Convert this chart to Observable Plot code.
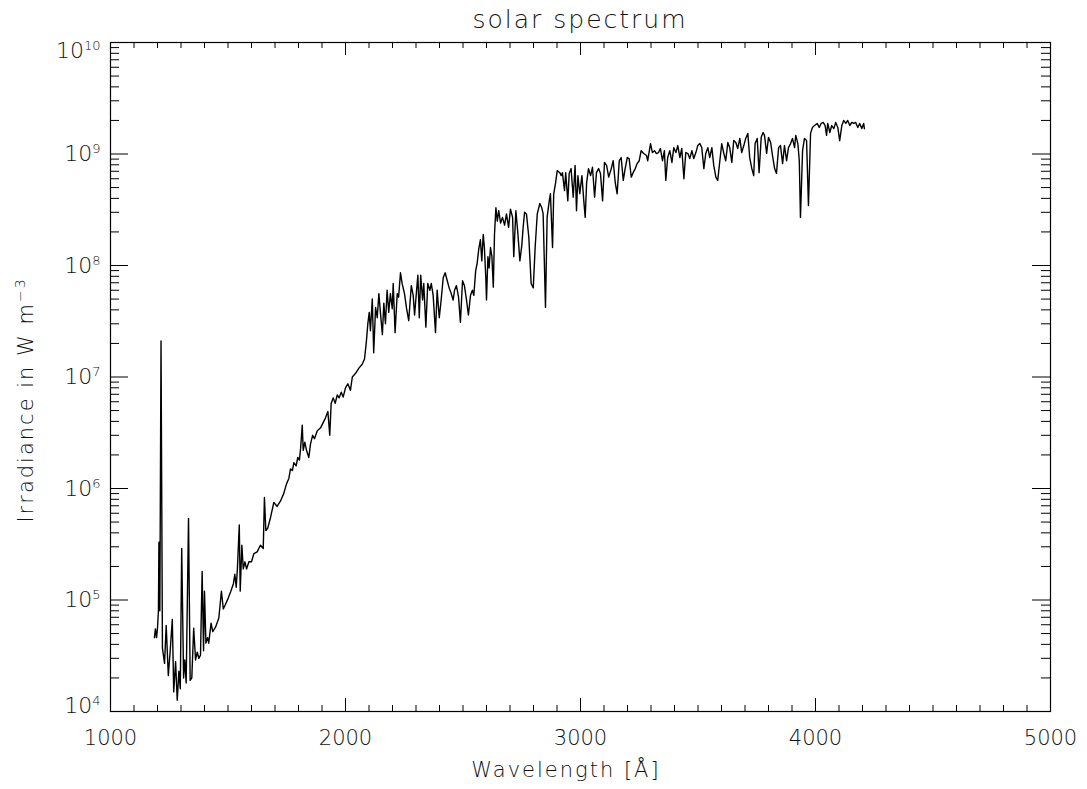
<!DOCTYPE html>
<html><head><meta charset="utf-8">
<script src="https://cdn.jsdelivr.net/npm/d3@7"></script>
<script src="https://cdn.jsdelivr.net/npm/@observablehq/plot@0.6"></script>
<style>
body{margin:0;background:#fff;}
#title{margin-left:110px;width:940px;height:36px;text-align:center;font-family:"DejaVu Sans",sans-serif;font-weight:200;font-size:25px;letter-spacing:2px;color:#111;line-height:40px;}
</style></head><body>
<div id="title">solar spectrum</div>
<div id="chart"></div>
<script>
const wavelength = [
1187,1191,1196,1200,1204,1206,1208,1210,1215,1221,1230,1237,1246,1254,1263,1269,1277,1284,1291,1297,
1303,1311,1316,1322,1332,1339,1346,1354,1362,1369,1376,1383,1390,1396,1400,1406,1413,1418,1428,1435,
1447,1461,1472,1480,1489,1501,1512,1523,1529,1535,1540,1548,1552,1559,1565,1572,1579,1589,1600,1610,
1624,1638,1650,1655,1661,1669,1681,1695,1709,1723,1737,1749,1759,1766,1774,1780,1790,1797,1804,1809,
1816,1820,1827,1834,1844,1851,1860,1868,1880,1894,1905,1915,1925,1933,1939,1948,1956,1965,1973,1982,
1990,2000,2010,2021,2029,2043,2057,2071,2081,2089,2095,2101,2106,2114,2120,2128,2135,2142,2149,2157,
2163,2170,2177,2184,2191,2199,2203,2211,2220,2226,2234,2241,2251,2260,2269,2280,2288,2294,2302,2308,
2314,2320,2328,2333,2342,2350,2359,2365,2373,2383,2390,2399,2407,2416,2424,2433,2441,2450,2458,2464,
2472,2481,2489,2498,2506,2515,2523,2532,2540,2546,2554,2560,2567,2574,2580,2586,2591,2597,2600,2606,
2611,2617,2623,2629,2634,2640,2646,2652,2660,2668,2677,2685,2694,2702,2711,2716,2725,2733,2742,2750,
2756,2762,2770,2780,2790,2799,2807,2816,2827,2835,2841,2851,2858,2867,2872,2881,2886,2894,2901,2912,
2918,2923,2932,2937,2946,2952,2960,2969,2977,2983,2989,2997,3006,3014,3020,3026,3034,3043,3051,3060,
3068,3077,3085,3094,3102,3111,3120,3131,3139,3148,3156,3165,3173,3182,3190,3199,3207,3216,3224,3233,
3241,3250,3258,3269,3281,3286,3298,3306,3315,3323,3332,3340,3349,3357,3363,3371,3380,3389,3397,3406,
3414,3423,3431,3440,3448,3457,3465,3474,3482,3491,3499,3508,3516,3525,3533,3542,3550,3559,3567,3576,
3584,3593,3601,3610,3618,3627,3635,3644,3652,3661,3669,3678,3686,3695,3703,3712,3720,3729,3737,3743,
3752,3760,3769,3777,3783,3792,3800,3809,3817,3826,3834,3843,3851,3860,3868,3877,3885,3894,3902,3911,
3916,3925,3931,3936,3945,3953,3962,3970,3979,3987,3996,4007,4016,4024,4033,4041,4047,4052,4061,4069,
4078,4086,4095,4103,4112,4120,4129,4137,4146,4154,4163,4171,4180,4188,4197,4205,4208
];
const irradiance = [
4.6e4,5.5e4,4.6e4,5.6e4,8.0e4,3.3e5,3.3e5,8.0e4,2.1e7,3.7e4,2.7e4,5.9e4,2.1e4,3.5e4,6.7e4,1.5e4,2.8e4,1.26e4,2.3e4,1.6e4,
2.9e5,2.0e4,2.9e4,1.8e4,5.4e5,1.9e4,2.0e4,5.6e4,2.9e4,3.4e4,3.0e4,3.2e4,1.8e5,3.5e4,1.2e5,4.1e4,4.6e4,4.1e4,6.2e4,5.2e4,
5.7e4,6.9e4,1.2e5,8.3e4,9.1e4,1.04e5,1.2e5,1.4e5,1.7e5,1.3e5,1.9e5,4.7e5,1.2e5,3.1e5,1.9e5,2.2e5,1.9e5,2.2e5,2.2e5,2.6e5,
2.7e5,3.1e5,2.9e5,8.3e5,4.2e5,4.4e5,5.5e5,7.5e5,6.9e5,7.7e5,9.0e5,1.1e6,1.23e6,1.5e6,1.45e6,1.7e6,1.6e6,1.9e6,1.8e6,2.3e6,
3.7e6,2.2e6,2.6e6,2.2e6,1.9e6,2.5e6,3.0e6,2.8e6,3.3e6,3.5e6,3.9e6,4.3e6,4.9e6,3.0e6,5.8e6,6.5e6,5.8e6,6.9e6,6.5e6,7.3e6,
6.6e6,8.0e6,8.7e6,7.6e6,1.0e7,1.08e7,1.2e7,1.3e7,1.45e7,2.1e7,3.0e7,3.8e7,2.6e7,5.0e7,1.65e7,4.2e7,3.4e7,5.6e7,3.7e7,2.4e7,
4.6e7,3.0e7,6.0e7,3.8e7,5.6e7,4.1e7,6.9e7,2.5e7,5.6e7,5.2e7,8.6e7,6.9e7,5.6e7,4.1e7,3.2e7,6.6e7,5.4e7,3.6e7,5.8e7,8.2e7,
3.4e7,8.2e7,4.9e7,6.9e7,2.8e7,6.9e7,6.0e7,6.9e7,5.4e7,2.5e7,6.0e7,3.4e7,4.9e7,7.8e7,8.6e7,7.3e7,6.3e7,5.6e7,4.9e7,6.0e7,
6.6e7,5.2e7,3.1e7,7.3e7,6.6e7,4.9e7,3.6e7,5.4e7,6.0e7,5.4e7,9.0e7,1.04e8,1.4e8,1.7e8,1.1e8,1.9e8,1.45e8,7.8e7,4.9e7,1.2e8,
9.5e7,1.45e8,1.2e8,6.4e7,1.9e8,3.3e8,2.5e8,3.1e8,2.4e8,2.7e8,2.3e8,2.9e8,2.2e8,3.2e8,2.7e8,1.2e8,3.1e8,2.0e8,1.1e8,1.5e8,
2.2e8,3.0e8,2.9e8,1.8e8,6.9e7,6.3e7,1.45e8,2.9e8,3.6e8,3.3e8,2.9e8,4.2e7,2.7e8,3.8e8,4.4e8,1.45e8,4.4e8,5.5e8,7.1e8,6.8e8,
6.4e8,6.8e8,4.7e8,6.8e8,3.8e8,6.7e8,7.4e8,4.1e8,7.9e8,3.1e8,6.4e8,4.4e8,6.4e8,3.8e8,2.7e8,5.5e8,7.4e8,6.4e8,7.6e8,4.1e8,
6.8e8,7.4e8,6.7e8,3.8e8,8.4e8,7.9e8,6.2e8,7.4e8,8.7e8,5.5e8,4.4e8,8.7e8,9.3e8,5.8e8,7.4e8,9.3e8,9.1e8,6.2e8,6.8e8,7.4e8,
8.2e8,8.7e8,1.07e9,1.01e9,9.7e8,8.7e8,1.24e9,1.03e9,1.07e9,1.01e9,1.03e9,1.12e9,8.7e8,1.07e9,5.8e8,9.3e8,1.07e9,8.4e8,1.14e9,1.03e9,
1.19e9,9.3e8,1.12e9,6.0e8,1.03e9,1.01e9,9.1e8,1.07e9,9.1e8,1.03e9,1.19e9,1.24e9,1.14e9,7.4e8,1.01e9,1.14e9,9.3e8,1.14e9,7.9e8,6.2e8,
5.8e8,8.7e8,1.24e9,1.01e9,8.7e8,1.27e9,1.14e9,8.4e8,1.32e9,1.27e9,1.12e9,1.38e9,1.03e9,1.19e9,1.38e9,1.53e9,9.3e8,7.4e8,6.4e8,1.24e9,
1.38e9,6.8e8,1.41e9,1.56e9,1.47e9,1.01e9,1.41e9,1.27e9,9.7e8,7.4e8,6.7e8,1.14e9,1.19e9,8.2e8,1.19e9,8.7e8,1.14e9,1.24e9,1.38e9,1.14e9,
1.47e9,1.24e9,8.7e8,2.7e8,1.07e9,1.38e9,1.32e9,3.45e8,1.53e9,1.73e9,1.80e9,1.88e9,1.73e9,1.88e9,1.92e9,1.80e9,1.47e9,1.88e9,1.56e9,1.80e9,
1.69e9,1.92e9,1.73e9,1.32e9,1.80e9,2.0e9,1.88e9,2.0e9,1.80e9,1.92e9,1.88e9,1.92e9,1.73e9,1.88e9,1.69e9,1.88e9,1.69e9
];
const xMajorTicks = [1000, 2000, 3000, 4000, 5000];
const xMinorTicks = [1100,1200,1300,1400,1500,1600,1700,1800,1900,2100,2200,2300,2400,2500,2600,2700,2800,2900,
  3100,3200,3300,3400,3500,3600,3700,3800,3900,4100,4200,4300,4400,4500,4600,4700,4800,4900];
const yMajorTicks = [1e4, 1e5, 1e6, 1e7, 1e8, 1e9, 1e10];
const yMinorMultipliers = [2, 3, 4, 5, 6, 7, 8, 9];
const yMinorTicks = yMajorTicks.slice(0, -1).flatMap(d => yMinorMultipliers.map(m => d * m));

const spectrum = wavelength.map((w, i) => ({w, v: irradiance[i]}));

const W = 1087, H = 753, mL = 110, mR = 37, mT = 6, mB = 78;
const innerW = W - mL - mR, innerH = H - mT - mB;
const font = '"DejaVu Sans", sans-serif';

const plot = Plot.plot({
  width: W, height: H, marginLeft: mL, marginRight: mR, marginTop: mT, marginBottom: mB,
  style: {fontFamily: font, fontWeight: 200, fontSize: "21px", color: "#111", background: "#fff", overflow: "visible"},
  x: {domain: [1000, 5000]},
  y: {type: "log", domain: [1e4, 1e10]},
  marks: [
    Plot.line(spectrum, {x: "w", y: "v", stroke: "#000", strokeWidth: 1.4}),
    Plot.tickX(xMajorTicks, {x: d => d, insetTop: innerH - 13, stroke: "#000"}),
    Plot.tickX(xMajorTicks, {x: d => d, insetBottom: innerH - 13, stroke: "#000"}),
    Plot.tickX(xMinorTicks, {x: d => d, insetTop: innerH - 6, stroke: "#000"}),
    Plot.tickX(xMinorTicks, {x: d => d, insetBottom: innerH - 6, stroke: "#000"}),
    Plot.tickY(yMajorTicks, {y: d => d, insetRight: innerW - 18, stroke: "#000"}),
    Plot.tickY(yMajorTicks, {y: d => d, insetLeft: innerW - 18, stroke: "#000"}),
    Plot.tickY(yMinorTicks, {y: d => d, insetRight: innerW - 9, stroke: "#000"}),
    Plot.tickY(yMinorTicks, {y: d => d, insetLeft: innerW - 9, stroke: "#000"}),
    Plot.frame({stroke: "#000", strokeWidth: 1.2}),
    Plot.axisX(xMajorTicks, {tickSize: 0, tickPadding: 19, fontSize: 21, tickFormat: d => String(d), label: null, fill: "#111"}),
    Plot.axisY(yMajorTicks, {tickSize: 0, tickPadding: 10, fontSize: 22, tickFormat: d => "10^" + Math.round(Math.log10(d)), label: null, fill: "#111"})
  ]
});

const svg = d3.select(plot);
const yLabels = svg.selectAll('g[aria-label="y-axis tick label"] text').nodes();
yLabels.forEach((node) => {
  const s = node.textContent;
  const [base, exp] = s.split("^");
  node.textContent = "";
  const t = d3.select(node);
  t.append("tspan").text(base);
  t.append("tspan").attr("dy", -8).attr("font-size", 13).text(exp);
  if (exp === "4") node.setAttribute("transform", (node.getAttribute("transform") || "") + " translate(0,-6)");
  if (exp === "10") node.setAttribute("transform", (node.getAttribute("transform") || "") + " translate(0,8)");
});

svg.append("text")
  .attr("transform", "translate(33,364) rotate(-90)")
  .attr("text-anchor", "middle")
  .attr("font-family", font).attr("font-weight", 200).attr("font-size", 21)
  .attr("letter-spacing", 2).attr("fill", "#111")
  .call(t => {
    t.append("tspan").text("Irradiance in W m");
    t.append("tspan").attr("dy", -8).attr("font-size", 14).text("\u22123");
  });

svg.append("text")
  .attr("x", 566).attr("y", 741)
  .attr("text-anchor", "middle")
  .attr("font-family", font).attr("font-weight", 200).attr("font-size", 21)
  .attr("letter-spacing", 2).attr("fill", "#111")
  .text("Wavelength [\u00C5]");

document.getElementById("chart").appendChild(plot);
</script>
</body></html>
